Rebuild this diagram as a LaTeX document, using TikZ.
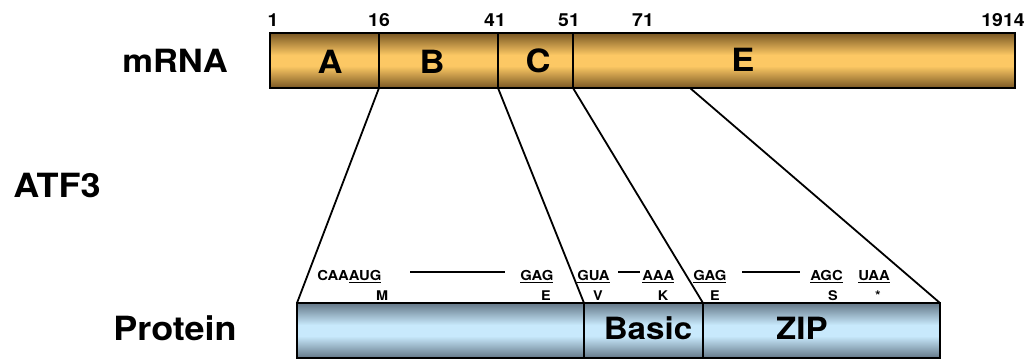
\documentclass[tikz,border=0pt]{standalone}
\usepackage{fontspec}
\setmainfont{TeX Gyre Heros}[FakeStretch=1.08]
\definecolor{gdark}{RGB}{122,88,36}
\definecolor{glight}{RGB}{252,200,100}
\definecolor{bdark}{RGB}{100,120,136}
\definecolor{blight}{RGB}{200,233,252}
\pgfdeclareverticalshading{goldbar}{100bp}{color(0bp)=(gdark); color(25bp)=(gdark); color(45bp)=(glight); color(55bp)=(glight); color(75bp)=(gdark); color(100bp)=(gdark)}
\pgfdeclareverticalshading{bluebar}{100bp}{color(0bp)=(bdark); color(25bp)=(bdark); color(45bp)=(blight); color(55bp)=(blight); color(75bp)=(bdark); color(100bp)=(bdark)}
\newcommand\myul[1]{\leavevmode\setbox0\hbox{#1}\rlap{\rule[-2.2pt]{\wd0}{1pt}}\box0}
\tikzset{
  seg/.style={draw=black, line width=1.9pt, shading=goldbar, minimum height=55*0.75pt, inner sep=0pt, outer sep=0pt},
  pseg/.style={seg, shading=bluebar},
  conn/.style={line width=1.35pt, black},
  dashln/.style={line width=1pt, black},
  big/.style={inner sep=0pt, anchor=base, font=\fontsize{24}{28}\selectfont\bfseries},
  seglab/.style={inner sep=0pt, anchor=base, font=\fontsize{24}{28}\selectfont\bfseries},
  num/.style={inner sep=0pt, anchor=base, font=\fontsize{13.5}{15}\selectfont\bfseries},
  codon/.style={inner sep=0pt, anchor=base west, font=\fontsize{10.3}{12}\selectfont\bfseries},
  amino/.style={inner sep=0pt, anchor=base, font=\fontsize{10}{11}\selectfont\bfseries}
}
\begin{document}
\begin{tikzpicture}[x=0.75pt,y=-0.75pt]
\useasboundingbox (0,0) rectangle (1033,360);
% mRNA bar
\node[seg, minimum width=109*0.75pt] (segA) at (324.5,60.5) {};
\node[seg, minimum width=119*0.75pt] (segB) at (438.5,60.5) {};
\node[seg, minimum width=75*0.75pt] (segC) at (535.5,60.5) {};
\node[seg, minimum width=442*0.75pt] (segE) at (794,60.5) {};
\node[seglab] (la) at (330,74) {A};
\node[seglab] (lb) at (432,74) {B};
\node[seglab] (lc) at (538,73) {C};
\node[seglab] (le) at (743,72) {E};
% numbers
\node[num] (n1) at (273,27) {1};
\node[num] (n16) at (379,27) {16};
\node[num] (n41) at (495,27) {41};
\node[num] (n51) at (569,27) {51};
\node[num] (n71) at (643,27) {71};
\node[num] (n1914) at (1003,27) {1914};
% left labels
\node[big] (mrna) at (175,73) {mRNA};
\node[big, font=\fontsize{25}{28}\selectfont\bfseries] (atf) at (57,198) {ATF3};
\node[big, font=\fontsize{25}{28}\selectfont\bfseries] (prot) at (175,340) {Protein};
% protein bar
\node[pseg, minimum width=287*0.75pt] (p1) at (440.5,330.5) {};
\node[pseg, minimum width=119*0.75pt] (p2) at (643.5,330.5) {};
\node[pseg, minimum width=237*0.75pt] (p3) at (821.5,330.5) {};
\node[seglab, font=\fontsize{23}{28}\selectfont\bfseries] (basic) at (648,339) {Basic};
\node[seglab, font=\fontsize{23}{28}\selectfont\bfseries] (zip) at (802,339) {ZIP};
% connectors
\coordinate (eStart) at (690,88);
\draw[conn] (segA.south east) -- (p1.north west);
\draw[conn] (segB.south east) -- (p1.north east);
\draw[conn] (segC.south east) -- (p2.north east);
\draw[conn] (eStart) -- (p3.north east);
% codons
\node[codon] (c1) at (317,280) {CAA\myul{AUG}};
\node[codon] (c2) at (520,280) {\myul{GAG}};
\node[codon] (c3) at (577,280) {\myul{GUA}};
\node[codon] (c4) at (642,280) {\myul{AAA}};
\node[codon] (c5) at (693,280) {\myul{GAG}};
\node[codon] (c6) at (810,280) {\myul{AGC}};
\node[codon] (c7) at (858,280) {\myul{UAA}};
\coordinate (d1a) at (410,272); \coordinate (d1b) at (505,272);
\coordinate (d2a) at (618,272); \coordinate (d2b) at (640,272);
\coordinate (d3a) at (742,272); \coordinate (d3b) at (800,272);
\draw[dashln] (d1a) -- (d1b);
\draw[dashln] (d2a) -- (d2b);
\draw[dashln] (d3a) -- (d3b);
% amino acids
\node[amino] (aM) at (382,300) {M};
\node[amino] (aE1) at (546,300) {E};
\node[amino] (aV) at (598,300) {V};
\node[amino] (aK) at (663,300) {K};
\node[amino] (aE2) at (715,300) {E};
\node[amino] (aS) at (833,300) {S};
\node[amino] (aX) at (878,300) {*};
\end{tikzpicture}
\end{document}
